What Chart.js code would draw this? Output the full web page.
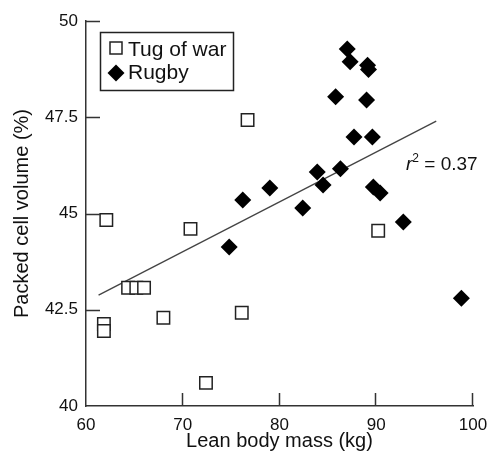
<!DOCTYPE html>
<html>
<head>
<meta charset="utf-8">
<script src="https://cdn.jsdelivr.net/npm/chart.js@4"></script>
<style>
  html, body { margin: 0; padding: 0; background: #fff; }
  #wrap { width: 489px; height: 458px; }
</style>
</head>
<body>
<div id="wrap"><canvas id="c" width="489" height="458"></canvas></div>
<script>
// ---- data ----
const tugX = [62.1, 61.85, 61.85, 64.35, 65.2, 66.0, 68.0, 70.8, 72.4, 76.1, 76.7, 90.2];
const tugY = [44.83, 42.13, 41.95, 43.07, 43.07, 43.07, 42.29, 44.6, 40.6, 42.42, 47.43, 44.55];
const rugX = [74.8, 76.2, 79.0, 82.4, 83.9, 84.5, 86.3, 85.8, 87.7, 89.6, 89.0, 87.0, 87.3, 89.1, 89.2, 89.7, 90.4, 92.8, 98.8];
const rugY = [44.13, 45.35, 45.66, 45.14, 46.08, 45.74, 46.16, 48.03, 46.99, 46.99, 47.95, 49.27, 48.94, 48.85, 48.74, 45.69, 45.53, 44.78, 42.8];
const fitX = [61.3, 96.2];
const fitY = [42.88, 47.4];
const seriesNames = ['Tug of war', 'Rugby'];
const xTicks = [60, 70, 80, 90, 100];
const yTicks = [40, 42.5, 45, 47.5, 50];
const r2Label = '0.37';
const xTitle = 'Lean body mass (kg)';
const yTitle = 'Packed cell volume (%)';

const toPts = (xs, ys) => xs.map((x, i) => ({x: x, y: ys[i]}));
const INK = '#111';
const FONT = "'Liberation Sans', Arial, sans-serif";

const overlay = {
  id: 'overlay',
  afterDraw(chart) {
    const ctx = chart.ctx;
    const xs = chart.scales.x, ys = chart.scales.y;
    const ca = chart.chartArea;
    ctx.save();
    // inward tick marks
    ctx.strokeStyle = '#333';
    ctx.lineWidth = 1.5;
    ctx.beginPath();
    yTicks.slice(1).forEach(v => {
      const p = Math.round(ys.getPixelForValue(v)) + 0.5;
      ctx.moveTo(ca.left, p); ctx.lineTo(ca.left + 14, p);
    });
    xTicks.slice(1).forEach(v => {
      const p = Math.round(xs.getPixelForValue(v)) - 0.5;
      ctx.moveTo(p, ca.bottom); ctx.lineTo(p, ca.bottom - 13);
    });
    ctx.stroke();

    // legend box
    const lx = ca.left + 14, ly = ca.top + 11;
    ctx.lineWidth = 1.5;
    ctx.strokeStyle = '#222';
    ctx.strokeRect(lx + 0.5, ly + 0.5, 133, 58);
    // legend markers
    ctx.fillStyle = '#fff';
    ctx.fillRect(lx + 10, ly + 10, 12, 12);
    ctx.strokeRect(lx + 10, ly + 10, 12, 12);
    ctx.fillStyle = '#000';
    const dx = lx + 16, dy = ly + 41, r = 8.5;
    ctx.beginPath();
    ctx.moveTo(dx, dy - r); ctx.lineTo(dx + r, dy); ctx.lineTo(dx, dy + r); ctx.lineTo(dx - r, dy);
    ctx.closePath(); ctx.fill();
    // legend text
    ctx.fillStyle = INK;
    ctx.font = '21px ' + FONT;
    ctx.textBaseline = 'alphabetic';
    ctx.textAlign = 'left';
    ctx.fillText(seriesNames[0], lx + 28, ly + 24);
    ctx.fillText(seriesNames[1], lx + 28, ly + 47);

    // r^2 label
    const tx = 406, ty = 170;
    ctx.font = 'italic 19px ' + FONT;
    ctx.fillText('r', tx, ty);
    const rw = ctx.measureText('r').width;
    ctx.font = '12px ' + FONT;
    ctx.fillText('2', tx + rw, ty - 8);
    const sw = ctx.measureText('2').width;
    ctx.font = '19px ' + FONT;
    ctx.fillText(' = ' + r2Label, tx + rw + sw, ty);
    ctx.restore();
  }
};

new Chart(document.getElementById('c'), {
  type: 'scatter',
  data: {
    datasets: [
      {
        label: 'fit',
        data: toPts(fitX, fitY),
        showLine: true,
        borderColor: '#444',
        borderWidth: 1.3,
        pointRadius: 0,
        pointHoverRadius: 0,
        order: 3
      },
      {
        label: seriesNames[0],
        data: toPts(tugX, tugY),
        pointStyle: 'rect',
        pointRadius: 8.8,
        pointHoverRadius: 8.8,
        backgroundColor: '#fff',
        borderColor: '#222',
        borderWidth: 1.5,
        order: 2
      },
      {
        label: seriesNames[1],
        data: toPts(rugX, rugY),
        pointStyle: 'rectRot',
        pointRadius: 8.5,
        pointHoverRadius: 8.5,
        backgroundColor: '#000',
        borderColor: '#000',
        borderWidth: 0,
        order: 1
      }
    ]
  },
  options: {
    responsive: false,
    animation: false,
    events: [],
    layout: { padding: { top: 21, right: 16, left: 0, bottom: 0 } },
    plugins: { legend: { display: false }, tooltip: { enabled: false } },
    scales: {
      x: {
        type: 'linear',
        min: 60, max: 100,
        afterBuildTicks: s => { s.ticks = xTicks.map(v => ({value: v})); },
        afterFit: s => { s.height = 52; s.paddingLeft = 0; s.paddingRight = 0; },
        grid: { display: false, drawTicks: false },
        border: { display: true, color: '#333', width: 1.5 },
        ticks: { color: INK, font: { family: FONT, size: 17 }, padding: 9, maxRotation: 0 },
        title: { display: true, text: xTitle, color: INK, font: { family: FONT, size: 20 }, padding: { top: 0, bottom: 5 } }
      },
      y: {
        type: 'linear',
        min: 40, max: 50,
        afterBuildTicks: s => { s.ticks = yTicks.map(v => ({value: v})); },
        afterFit: s => { s.width = 86; s.paddingTop = 0; s.paddingBottom = 0; },
        grid: { display: false, drawTicks: false },
        border: { display: true, color: '#333', width: 1.5 },
        ticks: { color: INK, font: { family: FONT, size: 17 }, padding: 8 },
        title: { display: true, text: yTitle, color: INK, font: { family: FONT, size: 20 }, padding: { top: 10, bottom: 0 } }
      }
    }
  },
  plugins: [overlay]
});
</script>
</body>
</html>
